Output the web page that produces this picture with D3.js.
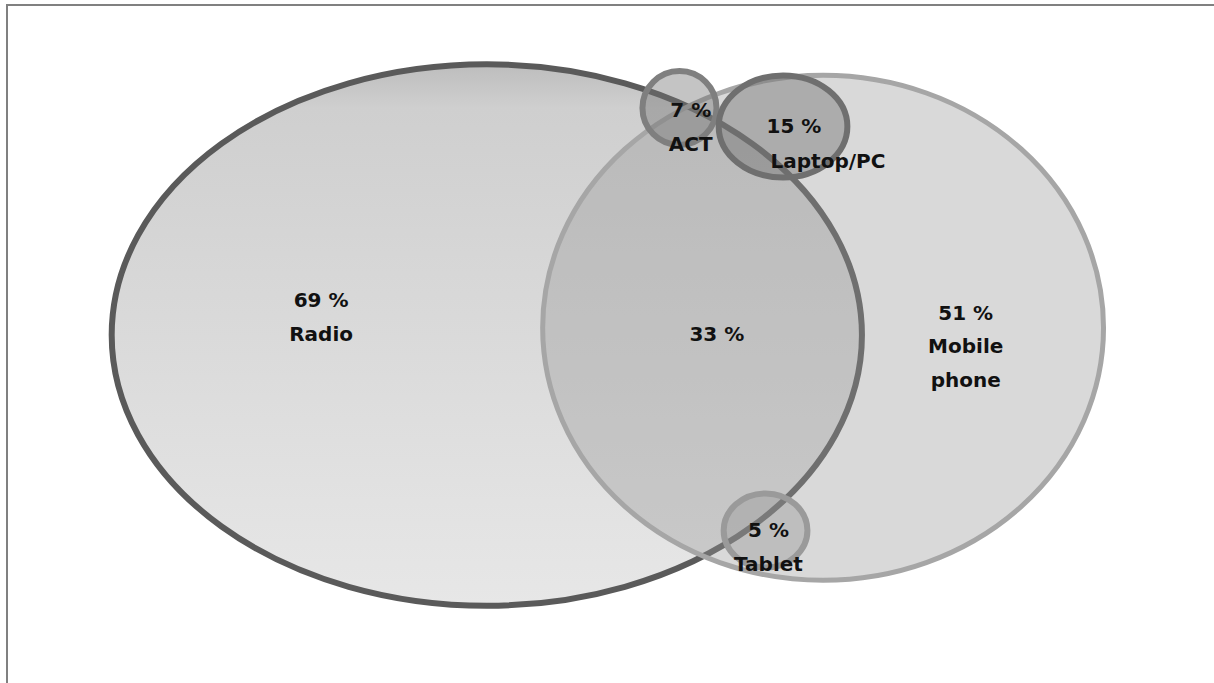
<!DOCTYPE html>
<html>
<head>
<meta charset="utf-8">
<script src="https://cdn.jsdelivr.net/npm/d3@7"></script>
<style>
  body { margin: 0; background: #fff; }
  svg { display: block; }
  .lbl { font-family: "DejaVu Sans", sans-serif; font-weight: bold; font-size: 20px; fill: #111; }
</style>
</head>
<body>
<svg id="venn" width="1214" height="683"></svg>
<script>
// device groups and shares (%)
const sets = ['Radio', 'Mobile phone', 'ACT', 'Laptop/PC', 'Tablet'];
const shares = [69, 51, 7, 15, 5];
const overlapLabel = '33 %';   // Radio ∩ Mobile phone

// layout of the shapes in chart units (100 units = chart width)
const layout = [
  { cx: 40.1,  cy: 27.6, rx: 30.9, ry: 22.3 },
  { cx: 67.8,  cy: 27.0, rx: 23.1, ry: 20.8 },
  { cx: 55.97, cy: 8.9,  rx: 3.05, ry: 3.05 },
  { cx: 64.5,  cy: 10.42, rx: 5.3, ry: 4.2 },
  { cx: 63.06, cy: 43.7, rx: 3.45, ry: 3.05 }
];

const svg = d3.select('#venn');
const W = 1214, H = 683;
const k = W / 100;

const x = d3.scaleLinear().domain([0, 100]).range([0, W]);
const y = d3.scaleLinear().domain([0, H / k]).range([0, H]);

// frame
svg.append('path')
  .attr('d', `M7,${H} L7,5 L${W},5`)
  .attr('fill', 'none')
  .attr('stroke', '#808080')
  .attr('stroke-width', 2);

const defs = svg.append('defs');
const grad = defs.append('linearGradient')
  .attr('id', 'radioFill')
  .attr('x1', 0).attr('y1', 0).attr('x2', 0).attr('y2', 1);
grad.append('stop').attr('offset', '0%').attr('stop-color', '#bdbdbd');
grad.append('stop').attr('offset', '8%').attr('stop-color', '#cfcfcf');
grad.append('stop').attr('offset', '100%').attr('stop-color', '#e7e7e7');

const styles = [
  { fill: 'url(#radioFill)', stroke: '#5a5a5a', sw: 6 },
  { fill: 'rgba(150,150,150,0.36)', stroke: '#a6a6a6', sw: 5 },
  { fill: 'rgba(115,115,115,0.42)', stroke: '#7f7f7f', sw: 6 },
  { fill: 'rgba(110,110,110,0.42)', stroke: '#6f6f6f', sw: 6 },
  { fill: 'rgba(140,140,140,0.35)', stroke: '#9a9a9a', sw: 6 }
];

const shapes = sets.map((s, i) => ({ name: s, share: shares[i], ...layout[i], style: styles[i] }));

svg.selectAll('ellipse.set')
  .data(shapes)
  .enter()
  .append('ellipse')
  .attr('class', 'set')
  .attr('cx', d => x(d.cx))
  .attr('cy', d => y(d.cy))
  .attr('rx', d => d.rx * k)
  .attr('ry', d => d.ry * k)
  .attr('fill', d => d.style.fill)
  .attr('stroke', d => d.style.stroke)
  .attr('stroke-width', d => d.style.sw);

// label anchors (chart units), one line per entry
const labelPos = [
  { x: 26.45, y: 24.85, lines: [`${shares[0]} %`, 'Radio'] },
  { x: 79.55, y: 25.9,  lines: [`${shares[1]} %`, 'Mobile', 'phone'] },
  { x: 56.9,  y: 9.2,   lines: [`${shares[2]} %`, 'ACT'] },
  { x: 65.4,  y: 10.5,  lines: [`${shares[3]} %`] },
  { x: 63.3,  y: 43.8,  lines: [`${shares[4]} %`, 'Tablet'] }
];

const labels = svg.append('g');
labelPos.forEach(p => {
  p.lines.forEach((t, j) => {
    labels.append('text')
      .attr('class', 'lbl')
      .attr('x', x(p.x))
      .attr('y', y(p.y) + j * 33.5)
      .attr('text-anchor', 'middle')
      .attr('dominant-baseline', 'middle')
      .text(t);
  });
});

// Laptop/PC name sits below-right of its share
labels.append('text')
  .attr('class', 'lbl')
  .attr('x', x(68.2))
  .attr('y', y(10.5) + 35)
  .attr('text-anchor', 'middle')
  .attr('dominant-baseline', 'middle')
  .text(sets[3]);

labels.append('text')
  .attr('class', 'lbl')
  .attr('x', x(59.05))
  .attr('y', y(27.6))
  .attr('text-anchor', 'middle')
  .attr('dominant-baseline', 'middle')
  .text(overlapLabel);
</script>
</body>
</html>
